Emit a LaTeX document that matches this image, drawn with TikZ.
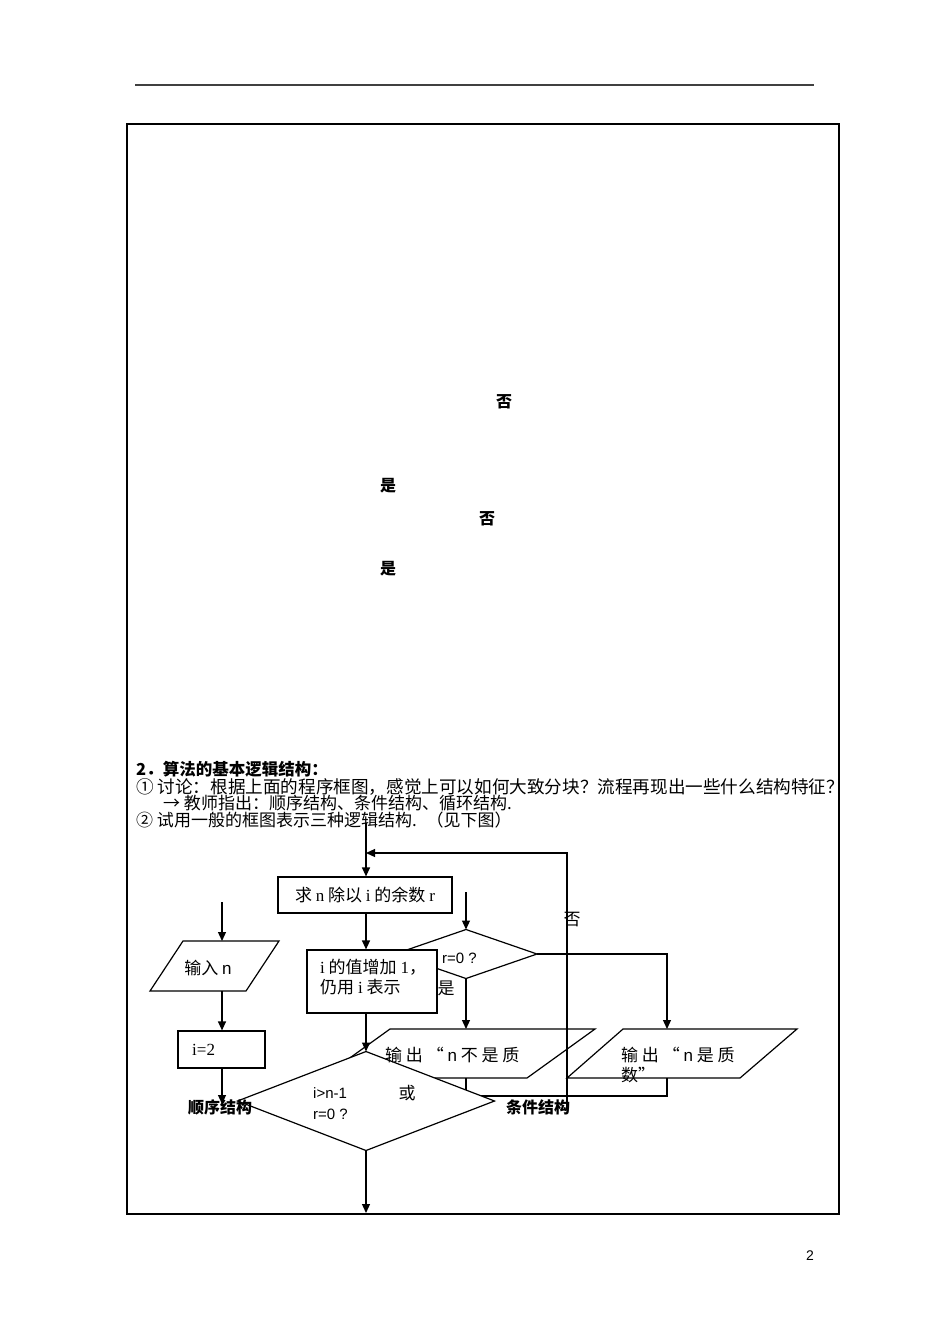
\documentclass[tikz,border=0pt]{standalone}
\usepackage{fontspec}
\setmainfont{Liberation Serif}
\setsansfont{Liberation Sans}
\newfontfamily\cjk{Noto Sans CJK SC}
\usetikzlibrary{shapes.geometric,arrows.meta}

\tikzset{
  line/.style={line width=1.2pt},
  arr/.style={line, -{Triangle[length=9pt,width=8pt]}},
  txt/.style={inner sep=0pt, font=\cjk\fontsize{17}{20}\selectfont},
  lbl/.style={inner sep=0pt, font=\cjk\bfseries\fontsize{16}{18}\selectfont},
  box/.style={draw, line width=1.2pt, fill=white, rectangle, inner sep=0pt, font=\cjk\fontsize{17}{20}\selectfont},
  cond/.style={draw, line width=1.2pt, diamond, inner sep=0pt, outer sep=0pt},
}

\begin{document}
\begin{tikzpicture}[x=1pt, y=-1pt]
  \useasboundingbox (0,0) rectangle (950,1344);

  \draw[line width=1.8pt, black!75] (135,85) -- (814,85);
  \draw[line] (127,124) rectangle (839,1214);

  \node[lbl] (no1) at (504,402) {否};
  \node[lbl] (yes1) at (388,486) {是};
  \node[lbl] (no2) at (487,519) {否};
  \node[lbl] (yes2) at (388,569) {是};

  \node[txt, anchor=west, font=\cjk\bfseries\fontsize{16.5}{18}\selectfont] (head) at (136,769) {2．算法的基本逻辑结构：};
  \node[txt, anchor=west, font=\cjk\fontsize{17.6}{20}\selectfont] (q1) at (136,787) {① 讨论：根据上面的程序框图，感觉上可以如何大致分块？流程再现出一些什么结构特征？};
  \node[txt, anchor=west] (q2) at (163,803) {→ 教师指出：顺序结构、条件结构、循环结构.};
  \node[txt, anchor=west] (q3) at (136,820) {② 试用一般的框图表示三种逻辑结构.\hspace{10pt}（见下图）};

  \coordinate (top) at (366,823);
  \coordinate (join) at (366,853);
  \coordinate (loop) at (567,1110);
  \node[box, minimum width=174pt, minimum height=36pt] (rem) at (365,895) {求 {\rmfamily n} 除以 {\rmfamily i} 的余数 {\rmfamily r}};
  \draw[arr] (loop) |- (join);
  \draw[arr] (top) -- (top |- rem.north);

  \coordinate (a1) at (466,892);
  \node[cond, minimum width=142pt, minimum height=49pt] (test) at (466,954) {};
  \draw[arr] (a1) -- (test.north);
  \node[box, minimum width=130pt, minimum height=63pt] (inc) at (372,981.5) {};
  \draw[arr] (top |- rem.south) -- (top |- inc.north);

  % output parallelograms
  \draw[line] (390,1029) -- (595,1029) -- (527,1078) -- (322,1078) -- cycle;
  \draw[line] (623,1029) -- (797,1029) -- (740,1078) -- (567,1078) -- cycle;
  \coordinate (no-t) at (466,1029);
  \coordinate (no-b) at (466,1078);
  \coordinate (yes-t) at (667,1029);
  \coordinate (yes-b) at (667,1078);
  \coordinate (m) at (466,1096);
  \coordinate (mend) at (466,1113);
  \draw[arr] (test.south) -- (no-t);
  \draw[arr] (test.east) -| (yes-t);
  \draw[line] (yes-b) |- (m);
  \draw[arr] (no-b) -- (mend);

  \node[cond, fill=white, minimum width=257pt, minimum height=99pt] (stop) at (366,1101) {};
  \draw[arr] (top |- inc.south) -- (stop.north);
  \coordinate (out) at (366,1213);
  \draw[arr] (stop.south) -- (out);

  \coordinate (a0) at (222,902);
  \draw[line] (183,941) -- (279,941) -- (246,991) -- (150,991) -- cycle;
  \coordinate (in-t) at (222,941);
  \coordinate (in-b) at (222,991);
  \node[box, minimum width=87pt, minimum height=37pt] (init) at (221.5,1049.5) {};
  \coordinate (a0e) at (222,1104);
  \draw[arr] (a0) -- (in-t);
  \draw[arr] (in-b) -- (a0 |- init.north);
  \draw[arr] (a0 |- init.south) -- (a0e);

  \node[txt] (tin) at (208,968) {输入 {\sffamily n}};
  \node[txt, anchor=west] (tinit) at (192,1050) {\rmfamily i=2};
  \node[txt, anchor=north west, align=left] (tinc) at (320,959) {{\rmfamily i} 的值增加 {\rmfamily 1}，\\仍用 {\rmfamily i} 表示};
  \node[txt, anchor=west, font=\sffamily\fontsize{15}{18}\selectfont] (ttest) at (442,958) {r=0 ?};
  \node[txt] (tyes) at (446,988) {是};
  \node[txt] (tno) at (572,920) {否};
  \node[txt, anchor=west] (tnot) at (385,1055) {输 出 “ {\sffamily n} 不 是 质};
  \node[txt, anchor=west] (tprime) at (621,1055) {输 出 “ {\sffamily n} 是 质};
  \node[txt, anchor=west] (tprime2) at (621,1075) {数”};
  \node[txt, anchor=west, font=\sffamily\fontsize{15}{18}\selectfont] (tstop) at (313,1093) {i>n-1};
  \node[txt, anchor=west, font=\sffamily\fontsize{15}{18}\selectfont] (tstop2) at (313,1114) {r=0 ?};
  \node[txt] (tor) at (407,1093) {或};
  \node[lbl] (seq) at (220,1107) {顺序结构};
  \node[lbl] (cnd) at (538,1107) {条件结构};
  \node[inner sep=0pt, font=\sffamily\fontsize{14}{16}\selectfont] (page) at (810,1256) {2};

\end{tikzpicture}
\end{document}
